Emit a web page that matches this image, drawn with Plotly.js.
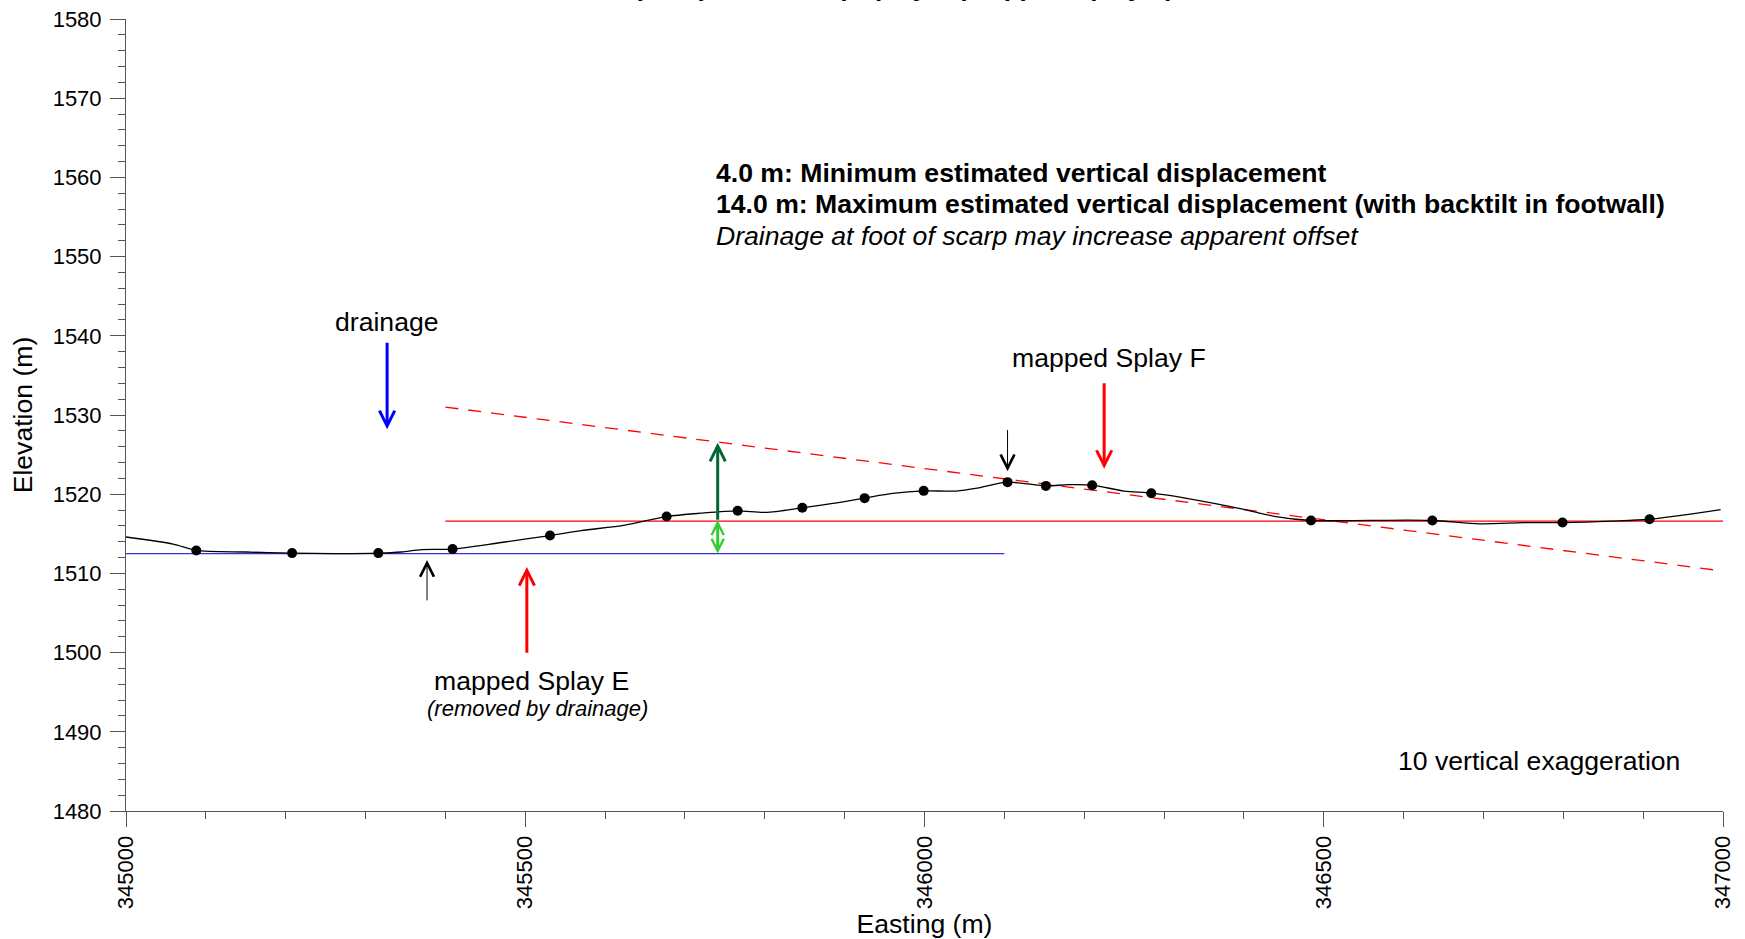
<!DOCTYPE html>
<html>
<head>
<meta charset="utf-8">
<script src="https://cdn.plot.ly/plotly-3.0.1.min.js"></script>
<style>
  html, body { margin: 0; padding: 0; background: #fff; }
  #chart { width: 1745px; height: 939px; }
</style>
</head>
<body>
<div id="chart"></div>
<script>
// ---- Data ----
// Topographic profile line (easting, elevation)
const profileEasting = [345000, 345059, 345088, 345150, 345208, 345260, 345316, 345345, 345370, 345409,
  345470, 345531, 345570, 345625, 345677, 345720, 345766, 345801, 345847, 345890,
  345925, 345960, 345999, 346040, 346066, 346104, 346152, 346180, 346210, 346250,
  346285, 346330, 346397, 346440, 346484, 346560, 346636, 346696, 346750, 346799,
  346860, 346908, 346997];
const profileElevation = [1514.6, 1513.7, 1512.9, 1512.7, 1512.56, 1512.5, 1512.55, 1512.7, 1513.0, 1513.07,
  1513.9, 1514.78, 1515.4, 1516.1, 1517.18, 1517.6, 1517.9, 1517.7, 1518.28, 1518.9,
  1519.5, 1520.1, 1520.42, 1520.4, 1520.76, 1521.52, 1521.05, 1521.2, 1521.14, 1520.4,
  1520.13, 1519.45, 1518.15, 1517.18, 1516.68, 1516.7, 1516.68, 1516.26, 1516.4, 1516.42,
  1516.6, 1516.84, 1518.06];

// Surveyed points (black dots)
const pointEasting = [345088, 345208, 345316, 345409, 345531, 345677, 345766, 345847, 345925, 345999,
  346104, 346152, 346210, 346284, 346484, 346636, 346799, 346908];
const pointElevation = [1512.89, 1512.56, 1512.56, 1513.07, 1514.78, 1517.18, 1517.90, 1518.28, 1519.50, 1520.42,
  1521.52, 1521.05, 1521.14, 1520.13, 1516.68, 1516.68, 1516.42, 1516.84];

// Reference surfaces
const hangingwallEasting = [345000, 346100];     // blue line
const hangingwallElevation = [1512.5, 1512.5];
const footwallEasting = [345400, 347000];        // red solid line
const footwallElevation = [1516.6, 1516.6];
const backtiltEasting = [345400, 347000];        // red dashed line
const backtiltElevation = [1531.0, 1510.3];

// Axis ticks
const xTickValues = [345000, 345500, 346000, 346500, 347000];
const xTickLabels = ["345000", "345500", "346000", "346500", "347000"];
const yTickValues = [1480, 1490, 1500, 1510, 1520, 1530, 1540, 1550, 1560, 1570, 1580];
const yTickLabels = ["1480", "1490", "1500", "1510", "1520", "1530", "1540", "1550", "1560", "1570", "1580"];

// ---- Chart ----
const FONT = 'Arial, "Liberation Sans", sans-serif';
const TXT = 26.6;

const traces = [
  { x: hangingwallEasting, y: hangingwallElevation, mode: 'lines',
    line: { color: '#3333dd', width: 1.3 }, hoverinfo: 'skip' },
  { x: footwallEasting, y: footwallElevation, mode: 'lines',
    line: { color: '#ff0000', width: 1.3 }, hoverinfo: 'skip' },
  { x: backtiltEasting, y: backtiltElevation, mode: 'lines',
    line: { color: '#ff0000', width: 1.3, dash: '13px,10px' }, hoverinfo: 'skip' },
  { x: profileEasting, y: profileElevation, mode: 'lines',
    line: { color: '#000000', width: 1.3, shape: 'spline', smoothing: 0.8 } },
  { x: pointEasting, y: pointElevation, mode: 'markers',
    marker: { color: '#000000', size: 10 } }
];

function arrow(x, y, ax, ay, color, width, size, both) {
  const a = { x: x, y: y, ax: ax, ay: ay, xref: 'x', yref: 'y', axref: 'x', ayref: 'y',
    text: '', showarrow: true, arrowhead: 5, arrowsize: size, arrowwidth: width,
    arrowcolor: color, standoff: 0, startstandoff: 0 };
  if (both) { a.arrowside = 'end+start'; a.startarrowhead = 5; a.startarrowsize = size; }
  return a;
}
function label(x, y, text, size, xanchor) {
  return { x: x, y: y, xref: 'x', yref: 'y', text: text, showarrow: false,
    xanchor: xanchor || 'center', yanchor: 'middle',
    font: { family: FONT, size: size, color: '#000' } };
}

const annotations = [
  // partially visible title at the very top (cut off in the reference too)
  { x: 345496, y: 1.0185, xref: 'x', yref: 'paper', xanchor: 'left', yanchor: 'bottom',
    text: '<b>Profile 3 (Sample location) Splay F (mapped Splay F)</b>', showarrow: false,
    font: { family: FONT, size: 26, color: '#000' } },

  label(345327, 1541.8, 'drainage', TXT),
  arrow(345327, 1528.2, 345327, 1539.3, '#0000ff', 3, 1.0),

  label(345508, 1496.4, 'mapped Splay E', TXT),
  label(345515, 1492.9, '<i>(removed by drainage)</i>', 22),
  arrow(345502, 1510.8, 345502, 1499.8, '#ff0000', 3, 1.0),

  label(346231, 1537.2, 'mapped Splay F', TXT),
  arrow(346225, 1523.2, 346225, 1534.2, '#ff0000', 3, 1.0),

  arrow(345377, 1511.7, 345377, 1506.4, '#000000', 1, 2.7),
  arrow(346104, 1522.9, 346104, 1528.3, '#000000', 1, 2.7),

  arrow(345741, 1526.5, 345741, 1516.6, '#006633', 3, 1.0),
  arrow(345741, 1512.5, 345741, 1516.9, '#33cc33', 3, 0.8, true),

  label(345736, 1560.5, '<b>4.0 m: Minimum estimated vertical displacement</b>', TXT, 'left'),
  label(345736, 1556.6, '<b>14.0 m: Maximum estimated vertical displacement (with backtilt in footwall)</b>', TXT, 'left'),
  label(345736, 1552.6, '<i>Drainage at foot of scarp may increase apparent offset</i>', TXT, 'left'),

  label(346949, 1486.3, '10 vertical exaggeration', TXT, 'right')
];

const axisCommon = {
  showgrid: false, zeroline: false, showline: true, linecolor: '#555', linewidth: 1,
  ticks: 'outside', ticklen: 15, tickcolor: '#555', tickwidth: 1,
  tickfont: { family: FONT, size: 22, color: '#000' }, tickmode: 'array'
};

const layout = {
  width: 1745, height: 939,
  margin: { l: 126, r: 22, t: 19, b: 128, pad: 0 },
  paper_bgcolor: '#fff', plot_bgcolor: '#fff',
  showlegend: false,
  font: { family: FONT, color: '#000' },
  xaxis: Object.assign({}, axisCommon, {
    range: [345000, 347000], tickvals: xTickValues, ticktext: xTickLabels,
    tickangle: -90,
    minor: { dtick: 100, tick0: 345000, ticks: 'outside', ticklen: 7, tickcolor: '#555', tickwidth: 1, showgrid: false },
    title: { text: 'Easting (m)', font: { family: FONT, size: TXT, color: '#000' }, standoff: 8 }
  }),
  yaxis: Object.assign({}, axisCommon, {
    range: [1480, 1580], tickvals: yTickValues, ticktext: yTickLabels,
    ticklabelstandoff: 4,
    minor: { dtick: 2, tick0: 1480, ticks: 'outside', ticklen: 7, tickcolor: '#555', tickwidth: 1, showgrid: false },
    title: { text: 'Elevation (m)', font: { family: FONT, size: TXT, color: '#000' }, standoff: 12 }
  }),
  annotations: annotations
};

Plotly.newPlot('chart', traces, layout, { displayModeBar: false, staticPlot: true });
</script>
</body>
</html>
